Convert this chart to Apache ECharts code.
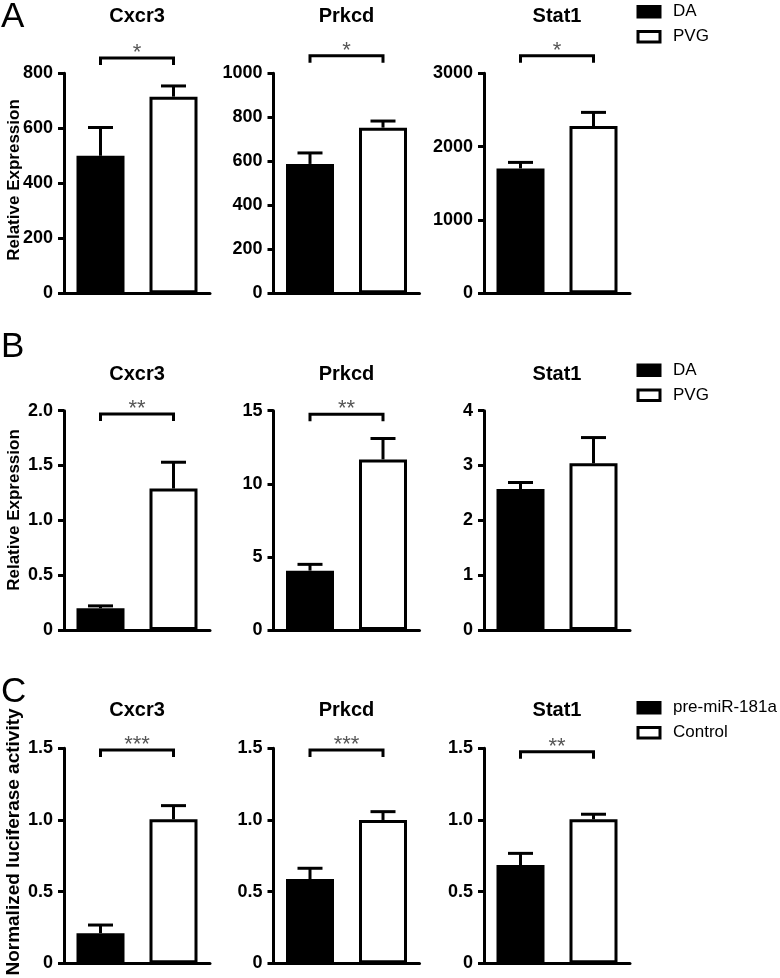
<!DOCTYPE html>
<html>
<head>
<meta charset="utf-8">
<script src="https://cdn.jsdelivr.net/npm/echarts@6/dist/echarts.min.js"></script>
<style>html,body{margin:0;padding:0;background:#fff}#c{width:780px;height:978px}</style>
</head>
<body>
<div id="c"></div>
<script>
// ---------- data ----------
const genes = ['Cxcr3', 'Prkcd', 'Stat1'];
const rowLetters = ['A', 'B', 'C'];
const groupNames = [['DA', 'PVG'], ['DA', 'PVG'], ['pre-miR-181a', 'Control']];
const yLabels = ['Relative Expression', 'Relative Expression', 'Normalized luciferase activity'];

// Row A (Relative Expression, DA vs PVG)
const rowA_first = [500, 588, 1703];
const rowA_firstErr = [103, 50, 82];
const rowA_second = [715, 753, 2280];
const rowA_secondErr = [39, 30, 187];
// Row B
const rowB_first = [0.198, 4.06, 2.57];
const rowB_firstErr = [0.022, 0.43, 0.12];
const rowB_second = [1.29, 11.67, 3.04];
const rowB_secondErr = [0.24, 1.43, 0.47];
// Row C (Normalized luciferase activity, pre-miR-181a vs Control)
const rowC_first = [0.21, 0.588, 0.686];
const rowC_firstErr = [0.057, 0.075, 0.081];
const rowC_second = [1.005, 1.0, 1.005];
const rowC_secondErr = [0.095, 0.058, 0.035];

// axes
const yMax = [[800, 1000, 3000], [2, 15, 4], [1.5, 1.5, 1.5]];
const yStep = [[200, 200, 1000], [0.5, 5, 1], [0.5, 0.5, 0.5]];
// significance
const sigText = [['*', '*', '*'], ['**', '**', ''], ['***', '***', '**']];
const sigLevel = [[856, 1080, 3240], [1.97, 14.75, null], [1.488, 1.488, 1.476]];

const firsts = [rowA_first, rowB_first, rowC_first];
const firstErrs = [rowA_firstErr, rowB_firstErr, rowC_firstErr];
const seconds = [rowA_second, rowB_second, rowC_second];
const secondErrs = [rowA_secondErr, rowB_secondErr, rowC_secondErr];

// ---------- layout ----------
const FONT = "'Liberation Sans', Arial, Helvetica, sans-serif";
const gridLeft = [64, 273.5, 484];
const gridW = 146;
const rowTop = [73.3, 410.7, 748.3];
const rowH = [220, 219.3, 215];
const titleY = [16.5, 374, 710.6];
const letterY = [17.5, 347.5, 692.5];
const yLabelPos = [[14, 180, 17], [14, 510, 17], [14, 842, 19]];
const legendTop = [3.3, 361.7, 699.3];

const grids = [], xAxes = [], yAxes = [], series = [], graphics = [];

for (let r = 0; r < 3; r++) {
  graphics.push({
    type: 'text', x: 1, y: letterY[r],
    style: { text: rowLetters[r], font: '35px ' + FONT, fill: '#000', textAlign: 'left', textVerticalAlign: 'middle' }
  });
  graphics.push({
    type: 'text', x: yLabelPos[r][0], y: yLabelPos[r][1], rotation: Math.PI / 2,
    style: { text: yLabels[r], font: 'bold ' + yLabelPos[r][2] + 'px ' + FONT, fill: '#000', textAlign: 'center', textVerticalAlign: 'middle' }
  });
  for (let c = 0; c < 3; c++) {
    const p = r * 3 + c;
    const step = yStep[r][c];
    grids.push({ left: gridLeft[c], top: rowTop[r], width: gridW, height: rowH[r] });
    graphics.push({
      type: 'text', x: gridLeft[c] + gridW / 2, y: titleY[r],
      style: { text: genes[c], font: 'bold 20px ' + FONT, fill: '#000', textAlign: 'center', textVerticalAlign: 'middle' }
    });
    xAxes.push({
      type: 'category', gridIndex: p, data: groupNames[r], boundaryGap: true,
      axisLine: { show: true, lineStyle: { color: '#000', width: 3 } },
      axisTick: { show: false }, axisLabel: { show: false }, splitLine: { show: false }
    });
    yAxes.push({
      type: 'value', gridIndex: p, min: 0, max: yMax[r][c], interval: step,
      axisLine: { show: true, lineStyle: { color: '#000', width: 3 } },
      axisTick: { show: true, length: 6, lineStyle: { color: '#000', width: 3 } },
      splitLine: { show: false },
      axisLabel: {
        color: '#000', fontWeight: 'bold', fontSize: 18, fontFamily: FONT, margin: 11,
        formatter: v => v === 0 ? '0' : (step < 1 ? v.toFixed(1) : String(v))
      }
    });
    const m1 = firsts[r][c], e1 = firstErrs[r][c], m2 = seconds[r][c], e2 = secondErrs[r][c];
    series.push({
      type: 'bar', name: groupNames[r][0], xAxisIndex: p, yAxisIndex: p,
      data: [m1, '-'], barWidth: 48, barGap: '-100%',
      itemStyle: { color: '#000', borderColor: '#000', borderWidth: 3 }, silent: true
    });
    series.push({
      type: 'bar', name: groupNames[r][1], xAxisIndex: p, yAxisIndex: p,
      data: ['-', m2], barWidth: 48, barGap: '-100%',
      itemStyle: { color: '#fff', borderColor: '#000', borderWidth: 3 }, silent: true
    });
    series.push({
      type: 'custom', name: 'err' + p, xAxisIndex: p, yAxisIndex: p, z: 5, clip: false, silent: true,
      data: [[0, m1, e1], [1, m2, e2]],
      encode: { x: 0, y: 1 },
      renderItem: (params, api) => {
        const x = api.value(0), m = api.value(1), e = api.value(2);
        const base = api.coord([x, m]);
        const top = api.coord([x, m + e]);
        const half = 12.5;
        return {
          type: 'group', children: [
            { type: 'line', shape: { x1: base[0], y1: base[1], x2: top[0], y2: top[1] }, style: { stroke: '#000', lineWidth: 3 } },
            { type: 'line', shape: { x1: top[0] - half, y1: top[1], x2: top[0] + half, y2: top[1] }, style: { stroke: '#000', lineWidth: 3 } }
          ]
        };
      }
    });
    if (sigText[r][c]) {
      series.push({
        type: 'custom', name: 'sig' + p, xAxisIndex: p, yAxisIndex: p, z: 5, clip: false, silent: true,
        data: [[0, 1, sigLevel[r][c]]],
        encode: { x: 0, y: 2 },
        renderItem: (params, api) => {
          const a = api.coord([api.value(0), api.value(2)]);
          const b = api.coord([api.value(1), api.value(2)]);
          return {
            type: 'group', children: [
              { type: 'polyline', shape: { points: [[a[0], a[1] + 7], [a[0], a[1]], [b[0], b[1]], [b[0], b[1] + 7]] },
                style: { stroke: '#000', lineWidth: 3, fill: null } },
              { type: 'text', x: (a[0] + b[0]) / 2, y: a[1] - 5,
                style: { text: sigText[r][c], font: '22px ' + FONT, fill: '#555', textAlign: 'center', textVerticalAlign: 'middle' } }
            ]
          };
        }
      });
    }
  }
}

const legends = [0, 1, 2].map(r => ({
  left: 636.5, top: legendTop[r], orient: 'vertical', padding: 0,
  itemWidth: 22, itemHeight: 10.5, itemGap: 8, selectedMode: false,
  textStyle: { fontSize: 17, fontFamily: FONT, color: '#000', lineHeight: 14, padding: [0, 0, 0, 8] },
  data: [
    { name: groupNames[r][0], icon: 'rect', itemStyle: { color: '#000', borderColor: '#000', borderWidth: 3 } },
    { name: groupNames[r][1], icon: 'rect', itemStyle: { color: '#fff', borderColor: '#000', borderWidth: 3 } }
  ]
}));

const chart = echarts.init(document.getElementById('c'), null, { renderer: 'canvas' });
chart.setOption({
  backgroundColor: '#fff',
  animation: false,
  textStyle: { fontFamily: FONT },
  grid: grids, xAxis: xAxes, yAxis: yAxes,
  legend: legends,
  series: series,
  graphic: graphics
});
</script>
</body>
</html>
